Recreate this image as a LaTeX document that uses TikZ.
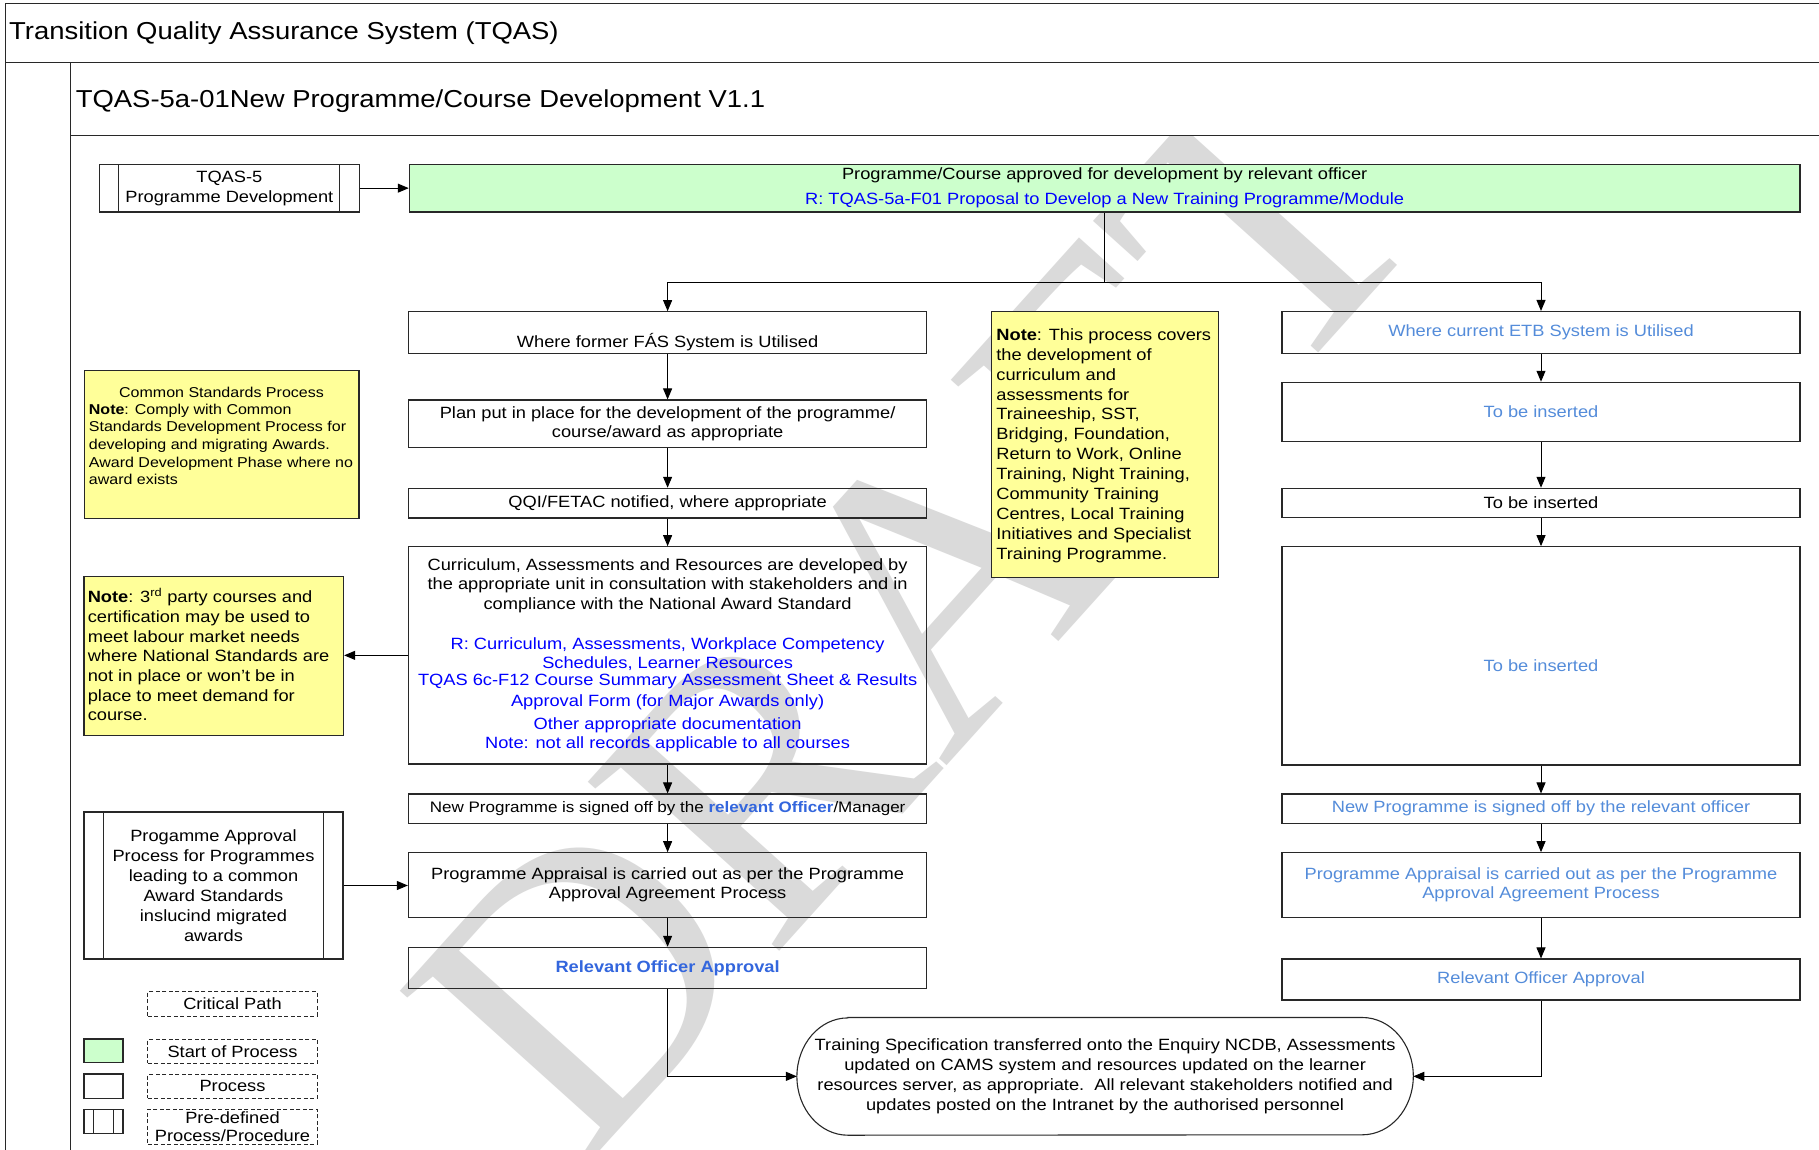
\documentclass[tikz,border=0pt]{standalone}
\usepackage{fontspec}
\setmainfont[FakeStretch=1.12]{Liberation Sans}
\newfontfamily\wmfont{Liberation Serif}
\usetikzlibrary{arrows.meta}
\definecolor{lgreen}{RGB}{204,255,204}
\definecolor{nyellow}{RGB}{255,255,153}
\definecolor{recblue}{RGB}{0,0,255}
\definecolor{offblue}{RGB}{51,102,221}
\definecolor{rblue}{RGB}{84,140,218}
\definecolor{wmgray}{RGB}{218,218,218}
\definecolor{lnc}{RGB}{40,40,40}
\newcommand\fsz[2]{\fontsize{#1}{#2}\selectfont}
\newcommand\rb[1]{\textcolor{recblue}{#1}}
\newcommand\lb[1]{\textcolor{rblue}{#1}}
\begin{document}
\begin{tikzpicture}[x=1pt,y=-1pt,
  sz/.style 2 args={minimum width=#1, minimum height=#2},
  boxln/.style={draw=lnc, line width=1.1pt},
  pbox/.style={boxln, rectangle, inner sep=2pt, align=center, font=\fsz{16.3}{19.5}},
  note/.style={boxln, fill=nyellow},
  ntxt/.style={inner sep=0pt, align=left, anchor=north west},
  arr/.style={-{Triangle[length=11pt,width=9pt]}, line width=1pt, draw=black},
  lnk/.style={line width=1pt, draw=black},
  legbox/.style={draw=lnc, dash pattern=on 4pt off 2.5pt, line width=0.9pt, align=center, inner sep=1pt, font=\fsz{16.3}{17.5}},
  frame/.style={draw=lnc, line width=1.4pt},
  predef/.style={path picture={\draw[line width=1.1pt, lnc] ([xshift=#1]path picture bounding box.north west) -- ([xshift=#1]path picture bounding box.south west) ([xshift=-#1]path picture bounding box.north east) -- ([xshift=-#1]path picture bounding box.south east);}}
]
\useasboundingbox (0,0) rectangle (1819,1150);
\fill[white] (0,0) rectangle (1819,1150);

% watermark
\begin{scope}
\clip (71,136) rectangle (1819,1150);
\node[font=\wmfont\fsz{390}{390}, text=wmgray, rotate=48, anchor=base west, inner sep=0pt] (draft) at (582,1171) {DRAFT};
\end{scope}

% frame
\draw[frame] (5.7,1150) -- (5.7,3.3) -- (1819,3.3);
\draw[frame] (5.7,62.3) -- (1819,62.3);
\draw[frame] (70.6,62.3) -- (70.6,1150);
\draw[frame] (70.6,135.7) -- (1819,135.7);
\node[anchor=base west, inner sep=0pt, font=\fsz{24.5}{28}] (title) at (9,40) {Transition Quality Assurance System (TQAS)};
\node[anchor=base west, inner sep=0pt, font=\fsz{24.5}{28}] (subtitle) at (75.6,107.3) {TQAS-5a-01New Programme/Course Development V1.1};

% top row
\node[pbox, predef=19.5pt, sz={260.1}{47.7}] (tqas5) at (229.35,188.15) {TQAS-5\\[0.5pt]Programme Development};
\node[pbox, fill=lgreen, sz={1390.7}{47.7}] (start) at (1104.65,188.15) {Programme/Course approved for development by relevant officer\\[5.5pt]\rb{R: TQAS-5a-F01 Proposal to Develop a New Training Programme/Module}};

% left column
\node[pbox, sz={518.4}{41.6}, text height=30.6pt, text depth=0pt] (fas) at (667.6,332.5) {Where former FÁS System is Utilised};
\node[pbox, sz={518.4}{47.3}] (plan) at (667.6,423.65) {Plan put in place for the development of the programme/\\course/award as appropriate};
\node[pbox, sz={518.4}{29.7}] (qqi) at (667.6,503.15) {QQI/FETAC notified, where appropriate};
\node[pbox, sz={518.4}{217.3}] (curr) at (667.6,655.35) {Curriculum, Assessments and Resources are developed by\\the appropriate unit in consultation with stakeholders and in\\compliance with the National Award Standard\\[20.5pt]\rb{R: Curriculum, Assessments, Workplace Competency}\\\rb{Schedules, Learner Resources}\\[-3pt]\rb{TQAS 6c-F12 Course Summary Assessment Sheet \& Results}\\[1.5pt]\rb{Approval Form (for Major Awards only)}\\[3.5pt]\rb{Other appropriate documentation}\\\rb{Note: not all records applicable to all courses}};
\node[pbox, font=\fsz{15.2}{18}, sz={518.4}{29.3}] (signL) at (667.6,808.65) {New Programme is signed off by the \textcolor{offblue}{\textbf{relevant Officer}}/Manager};
\node[pbox, sz={518.4}{65}] (apprL) at (667.6,885.2) {Programme Appraisal is carried out as per the Programme\\[-0.5pt]Approval Agreement Process};
\node[pbox, sz={518.4}{41}] (roaL) at (667.6,967.8) {\textcolor{offblue}{\textbf{Relevant Officer Approval}}};

% right column
\node[pbox, sz={518}{41.8}] (etb) at (1541,332.4) {\lb{Where current ETB System is Utilised}};
\node[pbox, sz={518}{59}] (tbi1) at (1541,411.8) {\lb{To be inserted}};
\node[pbox, sz={518}{29.4}] (tbi2) at (1541,503) {To be inserted};
\node[pbox, sz={518}{218.3}, text height=32pt, text depth=0pt] (tbi3) at (1541,655.85) {\lb{To be inserted}};
\node[pbox, sz={518}{29.3}] (signR) at (1541,808.65) {\lb{New Programme is signed off by the relevant officer}};
\node[pbox, sz={518}{65}] (apprR) at (1541,885.2) {\lb{Programme Appraisal is carried out as per the Programme}\\[-0.5pt]\lb{Approval Agreement Process}};
\node[pbox, sz={518}{41}] (roaR) at (1541,979.5) {\lb{Relevant Officer Approval}};

% notes
\node[note, sz={274.9}{148}] (noteA) at (221.55,444.7) {};
\node[inner sep=0pt, font=\fsz{14.3}{17.6}] (noteAh) at (221.5,392.3) {Common Standards Process};
\node[ntxt, font=\fsz{14.3}{17.6}] (noteAt) at (88.7,403.7) {\textbf{Note}: Comply with Common\\Standards Development Process for\\developing and migrating Awards.\\Award Development Phase where no\\award exists};

\node[note, sz={259.6}{158.6}] (noteB) at (213.8,656) {};
\node[ntxt, font=\fsz{16.3}{19.67}] (noteBt) at (87.6,590.7) {\textbf{Note}: 3\smash{\textsuperscript{rd}} party courses and\\certification may be used to\\meet labour market needs\\where National Standards are\\not in place or won’t be in\\place to meet demand for\\course.};

\node[note, sz={227.4}{265.6}] (noteC) at (1104.9,444.5) {};
\node[ntxt, font=\fsz{16.3}{19.9}] (noteCt) at (996.2,328.3) {\textbf{Note}: This process covers\\the development of\\curriculum and\\assessments for\\Traineeship, SST,\\Bridging, Foundation,\\Return to Work, Online\\Training, Night Training,\\Community Training\\Centres, Local Training\\Initiatives and Specialist\\Training Programme.};

% predefined approval process
\node[pbox, predef=19.5pt, sz={259}{147}, font=\fsz{16.3}{19.9}] (pa) at (213.5,885.5) {Progamme Approval\\Process for Programmes\\leading to a common\\Award Standards\\inslucind migrated\\awards};

% terminator
\node[inner sep=0pt, sz={616}{117.3}, align=center, font=\fsz{16.3}{20}] (term) at (1105.1,1076.35) {Training Specification transferred onto the Enquiry NCDB, Assessments\\updated on CAMS system and resources updated on the learner\\resources server, as appropriate.\ \ All relevant stakeholders notified and\\updates posted on the Intranet by the authorised personnel};
\draw[boxln] ([xshift=51pt]term.north west) -- ([xshift=-51pt]term.north east) arc[start angle=90,end angle=-90,x radius=51pt,y radius=58.65pt] -- ([xshift=51pt]term.south west) arc[start angle=270,end angle=90,x radius=51pt,y radius=58.65pt] -- cycle;

% legend
\node[legbox, sz={169.4}{24.3}] (lcp) at (232.5,1003.85) {Critical Path};
\node[boxln, fill=lgreen, sz={39}{23.7}] (lsq1) at (103.5,1050.85) {};
\node[legbox, sz={169.4}{24}] (lsp) at (232.5,1051.3) {Start of Process};
\node[boxln, sz={39}{24.3}] (lsq2) at (103.5,1086.15) {};
\node[legbox, sz={169.4}{24}] (lpr) at (232.5,1086.3) {Process};
\node[boxln, predef=9.5pt, sz={39}{24}] (lsq3) at (103.5,1121.3) {};
\node[legbox, sz={169.4}{34.7}] (lpd) at (232.5,1126.65) {Pre-defined\\Process/Procedure};

% connectors
\draw[arr] (tqas5.east) -- (start.west);
\coordinate (fork) at (1104.65,282.7);
\draw[lnk] (start.south) -- (fork);
\draw[arr] (fork) -| (fas.north);
\draw[arr] (fork) -| (etb.north);
\foreach \a/\b in {fas/plan, plan/qqi, qqi/curr, curr/signL, signL/apprL, apprL/roaL, etb/tbi1, tbi1/tbi2, tbi2/tbi3, tbi3/signR, signR/apprR, apprR/roaR}
  \draw[arr] (\a.south) -- (\b.north);
\draw[arr] (curr.west) -- (curr.west -| noteB.east);
\draw[arr] (pa.east) -- (pa.east -| apprL.west);
\draw[arr] (roaL.south) |- (term.west);
\draw[arr] (roaR.south) |- (term.east);
\end{tikzpicture}
\end{document}
